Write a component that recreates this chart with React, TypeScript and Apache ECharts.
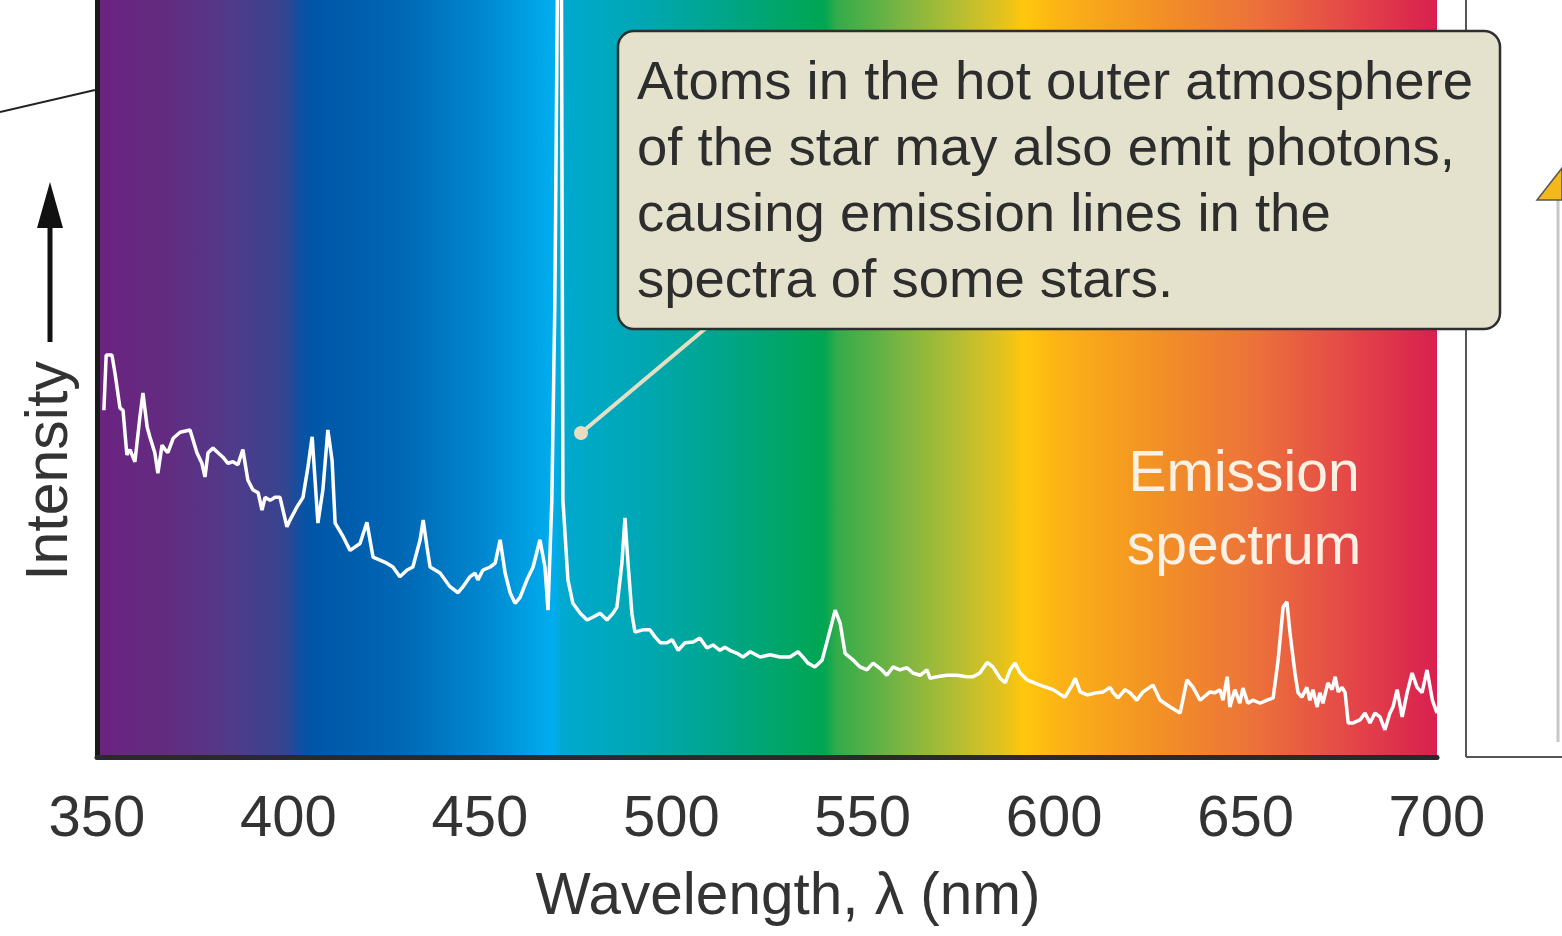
import React, { useEffect, useRef } from "react";
import * as echarts from "echarts";

const wavelengths = [
  351.8, 352.4, 353.9, 354.7, 356.0, 356.8, 357.8, 358.6, 359.9, 361.2,
  362.0, 363.1, 363.8, 365.1, 365.9, 367.0, 367.8, 368.5, 369.9, 371.7,
  374.3, 376.1, 377.4, 378.2, 379.0, 380.3, 381.6, 382.9, 384.2, 385.5,
  386.8, 388.1, 389.4, 390.7, 392.1, 393.1, 393.9, 395.2, 396.5, 397.8,
  399.6, 400.4, 402.2, 403.8, 405.1, 406.2, 406.9, 407.7, 409.0, 410.3,
  411.4, 412.2, 414.3, 416.1, 418.7, 420.5, 422.1, 423.9, 425.7, 427.3,
  429.1, 431.0, 432.5, 434.4, 435.2, 436.2, 437.0, 439.6, 442.2, 444.3,
  445.6, 447.4, 448.7, 449.5, 450.8, 452.7, 454.0, 455.3, 456.6, 457.9,
  459.2, 460.5, 462.3, 463.9, 465.7, 467.0, 467.8, 468.8, 469.6, 470.3,
  471.3, 471.7, 473.0, 474.3, 476.2, 478.0, 479.6, 481.4, 483.2, 484.8,
  485.8, 487.1, 487.9, 488.7, 489.7, 490.5, 492.6, 494.4, 495.7, 497.1,
  498.9, 500.2, 501.8, 503.6, 505.7, 507.5, 509.3, 510.9, 512.7, 514.0,
  515.3, 517.2, 518.7, 520.6, 523.2, 525.8, 528.4, 531.0, 533.1, 534.4,
  535.7, 537.5, 539.4, 541.5, 542.8, 544.1, 545.4, 547.5, 549.3, 551.1,
  552.7, 555.0, 556.3, 557.9, 559.7, 561.6, 563.1, 565.0, 566.8, 567.6,
  569.4, 572.0, 574.6, 577.2, 578.8, 580.6, 582.5, 584.0, 585.9, 587.2,
  588.5, 589.8, 591.1, 592.9, 596.3, 599.7, 602.8, 604.7, 605.5, 606.8,
  608.6, 611.2, 612.8, 614.6, 615.4, 616.7, 618.5, 619.8, 621.6, 623.2,
  625.8, 627.7, 630.3, 632.9, 634.7, 636.3, 638.1, 640.7, 642.0, 643.3,
  644.1, 645.2, 645.9, 647.2, 648.5, 649.3, 650.6, 651.9, 653.8, 655.6,
  657.2, 658.5, 659.8, 660.8, 661.6, 662.9, 663.7, 664.7, 666.0, 666.8,
  667.6, 668.7, 669.4, 670.2, 671.5, 672.6, 673.4, 674.2, 675.2, 676.0,
  676.8, 678.1, 679.9, 681.2, 682.5, 683.8, 685.1, 686.4, 687.7, 688.5,
  689.6, 690.9, 692.2, 693.5, 694.8, 696.1, 697.4, 698.8, 700.0,
];

const intensities = [
  45.8, 53.1, 53.1, 50.7, 46.1, 45.8, 39.9, 40.6, 39.0, 44.9,
  48.1, 43.6, 42.3, 40.2, 37.5, 41.2, 40.6, 40.2, 42.1, 42.9,
  43.2, 40.2, 38.8, 37.0, 40.2, 40.8, 40.2, 39.6, 38.8, 39.0,
  38.6, 40.6, 36.6, 35.3, 34.9, 32.6, 34.3, 33.9, 34.3, 34.3,
  30.4, 31.3, 33.0, 34.3, 38.3, 42.3, 37.0, 30.9, 35.3, 43.2,
  39.2, 30.9, 29.1, 27.3, 28.2, 31.0, 26.4, 26.0, 25.6, 25.1,
  23.8, 24.7, 25.1, 28.7, 31.3, 27.7, 25.1, 24.3, 22.5, 21.7,
  22.5, 23.8, 24.3, 23.4, 24.7, 25.1, 25.6, 28.7, 24.3, 21.7,
  20.3, 21.1, 23.4, 25.1, 28.7, 25.1, 19.4, 33.9, 60.4, 104,
  104, 33.9, 23.4, 20.3, 19.0, 18.1, 18.5, 19.0, 18.1, 19.0,
  19.8, 25.6, 31.6, 25.6, 19.0, 16.5, 16.8, 16.8, 15.9, 15.1,
  15.1, 15.5, 14.1, 15.1, 15.2, 15.7, 14.4, 14.8, 14.1, 14.5,
  14.1, 13.7, 13.2, 13.9, 13.2, 13.5, 13.2, 13.2, 13.9, 13.2,
  12.4, 11.9, 12.8, 16.8, 19.4, 17.7, 13.7, 12.8, 11.9, 11.5,
  12.4, 11.5, 10.8, 11.9, 11.5, 11.8, 11.1, 10.8, 11.5, 10.4,
  10.6, 10.8, 10.8, 10.6, 10.6, 11.1, 12.5, 11.9, 10.4, 9.8,
  11.5, 12.4, 11.1, 10.2, 9.5, 8.9, 7.9, 9.5, 10.4, 8.6,
  8.2, 8.5, 8.6, 9.2, 8.5, 7.8, 8.9, 8.5, 7.5, 8.6,
  9.5, 7.5, 6.6, 5.8, 10.2, 9.2, 7.5, 8.6, 8.5, 8.9,
  7.5, 10.6, 6.6, 8.9, 7.1, 9.1, 7.1, 7.5, 7.1, 7.5,
  7.8, 12.8, 19.8, 20.5, 16.4, 11.1, 8.5, 7.9, 9.2, 7.5,
  8.9, 6.6, 8.5, 7.1, 9.8, 8.9, 10.6, 8.6, 9.2, 8.5,
  4.5, 4.5, 4.9, 5.8, 4.5, 5.8, 5.3, 3.6, 5.8, 6.6,
  8.9, 5.3, 8.5, 11.1, 9.2, 8.5, 11.5, 7.5, 5.8,
];

const xTicks = { min: 350, max: 700, interval: 50 };
const yRange = { min: 0, max: 100 };

const xAxisTitle = "Wavelength, λ (nm)";
const yAxisTitle = "Intensity";
const calloutLines = [
  "Atoms in the hot outer atmosphere",
  "of the star may also emit photons,",
  "causing emission lines in the",
  "spectra of some stars.",
];
const spectrumLabel = ["Emission", "spectrum"];

const FONT = '"Liberation Sans", Arial, Helvetica, sans-serif';

export default function App() {
  const ref = useRef<HTMLDivElement>(null);

  useEffect(() => {
    if (!ref.current) return;
    const chart = echarts.init(ref.current, null, { renderer: "svg" });

    const data = wavelengths.map((w, i) => [w, intensities[i]]);

    const gradient = new echarts.graphic.LinearGradient(0, 0, 1, 0, [
      { offset: 0.0, color: "#6b2380" },
      { offset: 0.05, color: "#632b80" },
      { offset: 0.1, color: "#513a8a" },
      { offset: 0.14, color: "#36448f" },
      { offset: 0.153, color: "#0c52a3" },
      { offset: 0.159, color: "#0055a6" },
      { offset: 0.228, color: "#0068b5" },
      { offset: 0.288, color: "#0087cf" },
      { offset: 0.341, color: "#00adee" },
      { offset: 0.3465, color: "#00a9cf" },
      { offset: 0.413, color: "#00a7b0" },
      { offset: 0.48, color: "#00a580" },
      { offset: 0.543, color: "#00a651" },
      { offset: 0.552, color: "#33ab4a" },
      { offset: 0.6, color: "#7ab543" },
      { offset: 0.645, color: "#b9be32" },
      { offset: 0.675, color: "#e2c21f" },
      { offset: 0.692, color: "#ffc70c" },
      { offset: 0.72, color: "#fbb217" },
      { offset: 0.786, color: "#f39324" },
      { offset: 0.86, color: "#ec7439" },
      { offset: 0.92, color: "#e65046" },
      { offset: 1.0, color: "#d91f4f" },
    ]);

    chart.setOption({
      animation: false,
      backgroundColor: "#ffffff",
      grid: {
        left: 97,
        right: 125,
        top: 0,
        bottom: 179,
        show: true,
        backgroundColor: gradient,
        borderWidth: 0,
      },
      xAxis: {
        type: "value",
        min: xTicks.min,
        max: xTicks.max,
        interval: xTicks.interval,
        axisLine: { show: true, lineStyle: { color: "#2a2a2a", width: 5 } },
        axisTick: { show: false },
        splitLine: { show: false },
        axisLabel: {
          color: "#333333",
          fontSize: 58,
          fontFamily: FONT,
          margin: 29,
        },
      },
      yAxis: {
        type: "value",
        min: yRange.min,
        max: yRange.max,
        axisLine: { show: true, lineStyle: { color: "#1a1a1a", width: 5 } },
        axisTick: { show: false },
        axisLabel: { show: false },
        splitLine: { show: false },
      },
      series: [
        {
          type: "line",
          data,
          showSymbol: false,
          clip: true,
          lineStyle: { color: "#ffffff", width: 3.5 },
          z: 3,
        },
      ],
      graphic: [
        {
          type: "line",
          shape: { x1: 0, y1: 112, x2: 95, y2: 90 },
          style: { stroke: "#222222", lineWidth: 2 },
        },
        {
          type: "line",
          shape: { x1: 50, y1: 342, x2: 50, y2: 222 },
          style: { stroke: "#111111", lineWidth: 5 },
        },
        {
          type: "polygon",
          shape: { points: [[50, 182], [37, 228], [63, 228]] },
          style: { fill: "#111111" },
        },
        {
          type: "text",
          x: 47,
          y: 471,
          rotation: Math.PI / 2,
          style: {
            text: yAxisTitle,
            font: `59px ${FONT}`,
            fill: "#333333",
            align: "center",
            verticalAlign: "middle",
          },
        },
        {
          type: "text",
          x: 788,
          y: 893,
          style: {
            text: xAxisTitle,
            font: `58.5px ${FONT}`,
            fill: "#333333",
            align: "center",
            verticalAlign: "middle",
          },
        },
        {
          type: "line",
          shape: { x1: 1466, y1: 0, x2: 1466, y2: 757 },
          style: { stroke: "#555555", lineWidth: 2 },
        },
        {
          type: "line",
          shape: { x1: 1466, y1: 757, x2: 1562, y2: 757 },
          style: { stroke: "#555555", lineWidth: 2 },
        },
        {
          type: "line",
          shape: { x1: 1558, y1: 200, x2: 1558, y2: 742 },
          style: { stroke: "#c8c8c8", lineWidth: 3 },
        },
        {
          type: "polygon",
          shape: { points: [[1537, 200], [1562, 168], [1562, 200]] },
          style: { fill: "#f5b81a", stroke: "#555555", lineWidth: 1.5 },
        },
        {
          type: "line",
          shape: { x1: 706, y1: 328, x2: 581, y2: 433 },
          style: { stroke: "#e6dec2", lineWidth: 4 },
          z: 10,
        },
        {
          type: "circle",
          shape: { cx: 581, cy: 433, r: 7 },
          style: { fill: "#e6dec2" },
          z: 10,
        },
        {
          type: "rect",
          shape: { x: 618, y: 31, width: 882, height: 298, r: 16 },
          style: { fill: "#e4e2cd", stroke: "#2e2e2e", lineWidth: 2.5 },
          z: 10,
        },
        {
          type: "text",
          x: 637,
          y: 47,
          z: 11,
          style: {
            text: calloutLines.join("\n"),
            font: `54.5px ${FONT}`,
            lineHeight: 66,
            fill: "#2d2d2d",
            align: "left",
            verticalAlign: "top",
          },
        },
        {
          type: "text",
          x: 1244,
          y: 434,
          z: 11,
          style: {
            text: spectrumLabel.join("\n"),
            font: `57px ${FONT}`,
            lineHeight: 73,
            fill: "#fdf1e4",
            align: "center",
            verticalAlign: "top",
          },
        },
      ],
    });

    return () => chart.dispose();
  }, []);

  return (
    <div
      ref={ref}
      style={{ position: "fixed", left: 0, top: 0, width: 1562, height: 936 }}
    />
  );
}
